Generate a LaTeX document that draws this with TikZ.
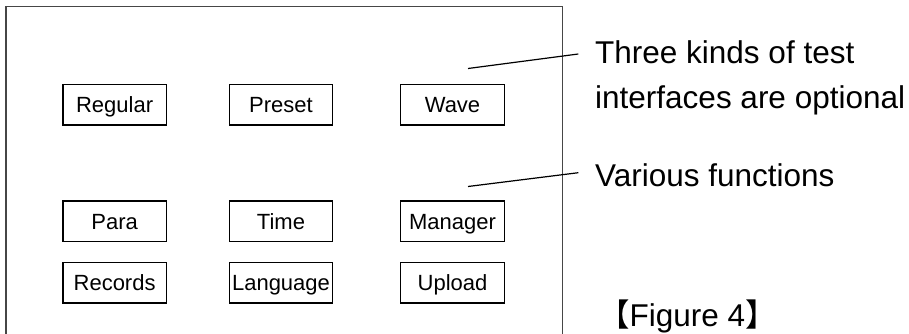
\documentclass[tikz,border=0pt]{standalone}
\usepackage{fontspec}
\setmainfont{Liberation Sans}
\newfontfamily\cjkfont{Noto Sans CJK SC}
\usetikzlibrary{positioning}

\definecolor{framecolor}{RGB}{70, 70, 70}

\tikzstyle{keybox} = [
    rectangle,
    draw=black,
    line width=1.4pt,
    minimum width=103.5pt,
    minimum height=40.7pt,
    inner sep=0pt,
    text height=15.8pt,
    text depth=0pt,
    font=\fontsize{22}{26}\selectfont
]
\tikzstyle{note} = [
    inner sep=0pt,
    align=left,
    font=\fontsize{31.5}{45.5}\selectfont
]
\tikzstyle{leader} = [
    line width=1.2pt,
    color=black
]

\begin{document}
\begin{tikzpicture}[x=1pt, y=-1pt]
\useasboundingbox (0,0) rectangle (909,334);

% Screen frame (runs off the bottom edge)
\begin{scope}
\clip (0,0) rectangle (909,334);
\node[draw=framecolor, line width=1.3pt, minimum width=556.3pt, minimum height=370pt,
      inner sep=0pt, anchor=north west] (screen) at (5.4,6) {};
\end{scope}

% Test interfaces
\node[keybox] (regular) at (114.6,104.7) {Regular};
\node[keybox] (preset) at (281,104.7) {Preset};
\node[keybox] (wave) at (452.5,104.7) {Wave};

% Function keys
\node[keybox] (para) at (114.6,221.3) {Para};
\node[keybox] (time) at (281,221.3) {Time};
\node[keybox] (manager) at (452.5,221.3) {Manager};
\node[keybox] (records) at (114.6,282.7) {Records};
\node[keybox] (language) at (281,282.7) {Language};
\node[keybox] (upload) at (452.5,282.7) {Upload};

% Notes on the right (base = last line)
\node[note, anchor=base west] (ifacenote) at (595,108.8) {Three kinds of test\\interfaces are optional};
\node[note, anchor=base west] (funcnote) at (595,186.7) {Various functions};

\coordinate (ifacefoot) at (468,68.5);
\coordinate (ifacetip) at (578.3,54);
\draw[leader] (ifacefoot) -- (ifacetip);

\coordinate (funcfoot) at (468,186.5);
\coordinate (functip) at (578.3,172.7);
\draw[leader] (funcfoot) -- (functip);

% Caption
\node[note, anchor=base west] (caption) at (598,326.7) {{\cjkfont 【}Figure 4{\cjkfont 】}};

\end{tikzpicture}
\end{document}
